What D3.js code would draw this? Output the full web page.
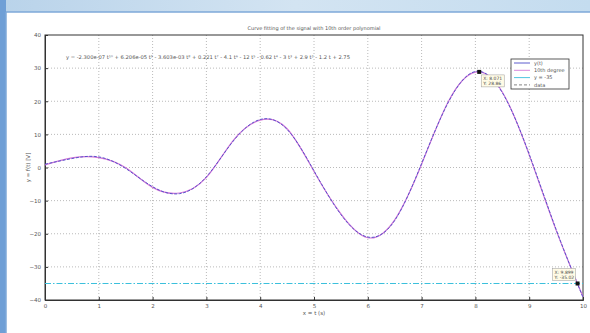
<!DOCTYPE html>
<html>
<head>
<meta charset="utf-8">
<script src="https://cdn.jsdelivr.net/npm/d3@7"></script>
<style>
  html, body { margin: 0; padding: 0; background: #fff; }
  svg { display: block; }
  text { font-family: "DejaVu Sans", Arial, sans-serif; }
</style>
</head>
<body>
<svg id="chart" width="590" height="333"></svg>
<script>
// Sampled signal y(t) and its 10th degree polynomial fit
const tValues   = [0, 0.5, 1, 1.5, 2, 2.5, 3, 3.5, 4, 4.5, 5, 5.5, 6, 6.5, 7, 7.5, 8, 8.5, 9, 9.5, 10];
const yData     = [1.0, 2.7, 3.2, -0.3, -5.8, -7.9, -2.8, 8.0, 14.5, 11.5, -1.0, -14.2, -21.0, -16.0, 1.2, 19.8, 29.0, 22.6, 4.0, -18.7, -39.2];
const yFit      = [0.8, 2.9, 3.0, -0.1, -6.0, -7.7, -3.0, 8.2, 14.3, 11.7, -1.2, -14.0, -21.2, -15.8, 1.0, 20.0, 28.8, 22.8, 3.8, -18.9, -39.0];
const limitY    = -35;
const xTicks    = [0, 1, 2, 3, 4, 5, 6, 7, 8, 9, 10];
const yTicks    = [-40, -30, -20, -10, 0, 10, 20, 30, 40];
const legendLabels = ["y(t)", "10th degree", "y = -35", "data"];
const tips = [
  { x: 8.071, y: 28.86 },
  { x: 9.899, y: -35.02 }
];
const titleText = "Curve fitting of the signal with 10th order polynomial";
const equationText = "y = -2.300e-07 t\u00B9\u2070 + 6.206e-05 t\u2079 - 3.603e-03 t\u2078 + 0.221 t\u2077 - 4.1 t\u2076 - 12 t\u2075 - 0.62 t\u2074 - 3 t\u00B3 + 2.9 t\u00B2 - 1.2 t + 2.75";

const svg = d3.select("#chart");

// Window frame around the figure
const defs = svg.append("defs");
const topGrad = defs.append("linearGradient").attr("id", "topband").attr("x1", 0).attr("x2", 1);
topGrad.append("stop").attr("offset", 0).attr("stop-color", "#b9d3ea");
topGrad.append("stop").attr("offset", 0.5).attr("stop-color", "#d3e4f2");
topGrad.append("stop").attr("offset", 1).attr("stop-color", "#c4dcef");
svg.append("rect").attr("x", 0).attr("y", 0).attr("width", 590).attr("height", 14).attr("fill", "url(#topband)");
svg.append("rect").attr("x", 0).attr("y", 0).attr("width", 6).attr("height", 333).attr("fill", "#6f9fd6");
svg.append("rect").attr("x", 6).attr("y", 12).attr("width", 584).attr("height", 321).attr("fill", "#ffffff");
svg.append("line").attr("x1", 6).attr("x2", 590).attr("y1", 12).attr("y2", 12).attr("stroke", "#7ea9d8").attr("stroke-width", 1.5);
svg.append("line").attr("x1", 6).attr("x2", 6).attr("y1", 12).attr("y2", 333).attr("stroke", "#7ea9d8").attr("stroke-width", 1.5);

const margin = { left: 45, right: 7, top: 35, bottom: 33 };
const W = 590, H = 333;
const x = d3.scaleLinear().domain([0, 10]).range([margin.left, W - margin.right]);
const y = d3.scaleLinear().domain([-40, 40]).range([H - margin.bottom, margin.top]);

const plot = svg.append("g");

// Grid
plot.append("g").selectAll("line").data(xTicks.slice(1, -1)).join("line")
  .attr("x1", d => x(d)).attr("x2", d => x(d))
  .attr("y1", y(-40)).attr("y2", y(40))
  .attr("stroke", "#a8a8a8").attr("stroke-width", 0.8).attr("stroke-dasharray", "1,2");
plot.append("g").selectAll("line").data(yTicks.slice(1, -1)).join("line")
  .attr("x1", x(0)).attr("x2", x(10))
  .attr("y1", d => y(d)).attr("y2", d => y(d))
  .attr("stroke", "#a8a8a8").attr("stroke-width", 0.8).attr("stroke-dasharray", "1,2");

// Axes box
const xAxis = d3.axisBottom(x).tickValues(xTicks).tickSize(-3).tickPadding(4).tickFormat(d3.format("d"));
const yAxis = d3.axisLeft(y).tickValues(yTicks).tickSize(-3).tickPadding(4).tickFormat(d3.format("d"));
const gx = plot.append("g").attr("transform", `translate(0,${y(-40)})`).call(xAxis);
const gy = plot.append("g").attr("transform", `translate(${x(0)},0)`).call(yAxis);
[gx, gy].forEach(g => {
  g.select(".domain").attr("stroke", "#333").attr("stroke-width", 1);
  g.selectAll(".tick line").attr("stroke", "#333");
  g.selectAll(".tick text").attr("fill", "#555").attr("font-size", 5.5);
});
plot.append("rect")
  .attr("x", x(0)).attr("y", y(40))
  .attr("width", x(10) - x(0)).attr("height", y(-40) - y(40))
  .attr("fill", "none").attr("stroke", "#333").attr("stroke-width", 1);

// Horizontal limit line
plot.append("line")
  .attr("x1", x(0)).attr("x2", x(10))
  .attr("y1", Math.round(y(limitY)) + 0.5).attr("y2", Math.round(y(limitY)) + 0.5)
  .attr("stroke", "#3cc0dc").attr("stroke-width", 1).attr("stroke-dasharray", "6,2,1.5,2");

// Curves
const fitLine = d3.line().x((d, i) => x(tValues[i])).y(d => y(d)).curve(d3.curveNatural);
plot.append("path").datum(yFit).attr("d", fitLine)
  .attr("fill", "none").attr("stroke", "#d47ad8").attr("stroke-width", 1.2);
plot.append("path").datum(yData).attr("d", fitLine)
  .attr("fill", "none").attr("stroke", "#4a4ac8").attr("stroke-width", 0.9)
  .attr("stroke-dasharray", "3,1.5");

// Data tips
tips.forEach((tp, i) => {
  const px = x(tp.x), py = y(tp.y);
  plot.append("rect").attr("x", px - 2).attr("y", py - 2).attr("width", 4).attr("height", 4).attr("fill", "#111");
  const bx = i === 0 ? px + 2 : px - 25;
  const by = i === 0 ? py + 3 : py - 15;
  const g = plot.append("g");
  g.append("rect").attr("x", bx).attr("y", by).attr("width", 23).attr("height", 12)
    .attr("fill", "#fffbe6").attr("stroke", "#999").attr("stroke-width", 0.5);
  g.append("text").attr("x", bx + 2).attr("y", by + 5).attr("font-size", 4.5).attr("fill", "#444")
    .text("X: " + tp.x.toFixed(3));
  g.append("text").attr("x", bx + 2).attr("y", by + 10.5).attr("font-size", 4.5).attr("fill", "#444")
    .text("Y: " + tp.y.toFixed(2));
});

// Legend
const legend = plot.append("g").attr("transform", "translate(511,59)");
legend.append("rect").attr("width", 58).attr("height", 30).attr("fill", "#fff").attr("stroke", "#333").attr("stroke-width", 0.8);
const legendStyles = [
  { stroke: "#4a4ac8", dash: null },
  { stroke: "#d47ad8", dash: null },
  { stroke: "#3cc0dc", dash: null },
  { stroke: "#777", dash: "3,2" }
];
legendLabels.forEach((lab, i) => {
  const ly = 4 + i * 7.3;
  legend.append("line").attr("x1", 3).attr("x2", 19).attr("y1", ly).attr("y2", ly)
    .attr("stroke", legendStyles[i].stroke).attr("stroke-width", 0.9)
    .attr("stroke-dasharray", legendStyles[i].dash);
  legend.append("text").attr("x", 23).attr("y", ly + 1.8).attr("font-size", 5).attr("fill", "#555").text(lab);
});

// Title, equation and axis labels
svg.append("text").attr("x", (x(0) + x(10)) / 2).attr("y", 30).attr("text-anchor", "middle")
  .attr("font-size", 5).attr("fill", "#555").text(titleText);
svg.append("text").attr("x", 66).attr("y", 59).attr("font-size", 5.2).attr("fill", "#555").text(equationText);
svg.append("text").attr("x", (x(0) + x(10)) / 2).attr("y", 315).attr("text-anchor", "middle")
  .attr("font-size", 5.5).attr("fill", "#555").text("x = t (s)");
svg.append("text").attr("transform", `translate(30,${y(0)}) rotate(-90)`).attr("text-anchor", "middle")
  .attr("font-size", 5.5).attr("fill", "#555").text("y = f(t) [V]");
</script>
</body>
</html>
